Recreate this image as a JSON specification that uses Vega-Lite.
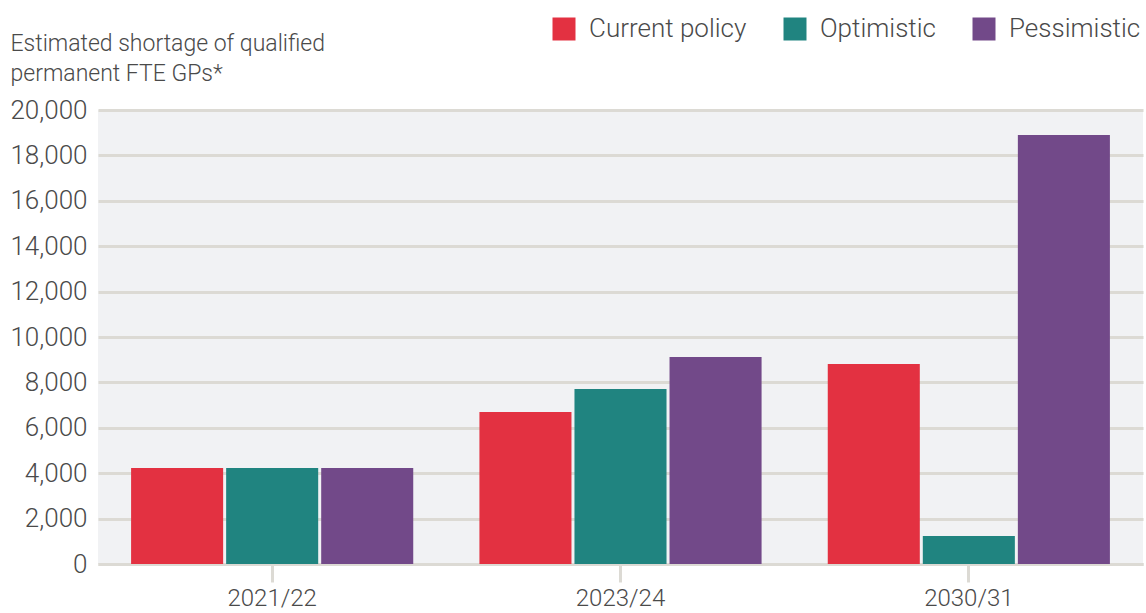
{
  "$schema": "https://vega.github.io/schema/vega-lite/v6.json",
  "width": 1045,
  "height": 454,
  "autosize": {"type": "none"},
  "padding": {"left": 98, "top": 110, "right": 3, "bottom": 49},
  "background": "#ffffff",
  "config": {
    "font": "Roboto",
    "view": {"fill": "#f1f2f4", "stroke": null},
    "axis": {"labelFont": "Roboto", "labelFontWeight": 300, "labelColor": "#4a4a4a", "titleColor": "#4a4a4a", "titleFont": "Roboto", "titleFontWeight": 300},
    "legend": {"labelFont": "Roboto", "labelFontWeight": 300, "labelColor": "#4a4a4a"}
  },
  "data": {
    "values": [
      {"year": "2021/22", "scenario": "Current policy", "value": 4230},
      {"year": "2021/22", "scenario": "Optimistic", "value": 4230},
      {"year": "2021/22", "scenario": "Pessimistic", "value": 4230},
      {"year": "2023/24", "scenario": "Current policy", "value": 6700},
      {"year": "2023/24", "scenario": "Optimistic", "value": 7710},
      {"year": "2023/24", "scenario": "Pessimistic", "value": 9120},
      {"year": "2030/31", "scenario": "Current policy", "value": 8810},
      {"year": "2030/31", "scenario": "Optimistic", "value": 1230},
      {"year": "2030/31", "scenario": "Pessimistic", "value": 18900}
    ]
  },
  "mark": {"type": "bar"},
  "encoding": {
    "x": {
      "field": "year",
      "type": "nominal",
      "scale": {"paddingInner": 0.19, "paddingOuter": 0.095},
      "axis": {
        "title": null,
        "labelAngle": 0,
        "labelFontSize": 24,
        "labelPadding": 4,
        "tickSize": 18,
        "tickWidth": 3,
        "tickColor": "#dcdad4",
        "domainColor": "#dcdad4",
        "domainWidth": 3,
        "grid": false
      }
    },
    "xOffset": {
      "field": "scenario",
      "type": "nominal",
      "scale": {"paddingInner": 0.0316, "paddingOuter": 0, "domain": ["Current policy", "Optimistic", "Pessimistic"]}
    },
    "y": {
      "field": "value",
      "type": "quantitative",
      "scale": {"domain": [0, 20000], "nice": false},
      "axis": {
        "values": [0, 2000, 4000, 6000, 8000, 10000, 12000, 14000, 16000, 18000, 20000],
        "format": ",d",
        "labelFontSize": 26,
        "labelPadding": 11,
        "ticks": false,
        "domain": false,
        "grid": true,
        "gridColor": "#dcdad4",
        "gridWidth": 3,
        "title": ["Estimated shortage of qualified", "permanent FTE GPs*"],
        "titleAngle": 0,
        "titleAlign": "left",
        "titleBaseline": "alphabetic",
        "titleX": -88,
        "titleY": -60,
        "titleFontSize": 23,
        "titleLineHeight": 30
      }
    },
    "color": {
      "field": "scenario",
      "type": "nominal",
      "scale": {"domain": ["Current policy", "Optimistic", "Pessimistic"], "range": ["#e33141", "#208480", "#724989"]},
      "legend": {
        "title": null,
        "orient": "none",
        "direction": "horizontal",
        "legendX": 453,
        "legendY": -94,
        "symbolType": "square",
        "symbolSize": 529,
        "symbolStrokeWidth": 0,
        "labelFontSize": 26,
        "labelOffset": 12,
        "columnPadding": 35
      }
    }
  }
}
